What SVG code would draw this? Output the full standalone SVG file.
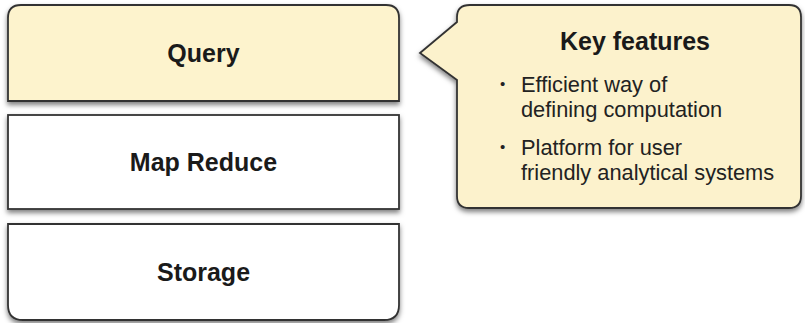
<svg xmlns="http://www.w3.org/2000/svg" width="805" height="323" viewBox="0 0 805 323">
<defs>
<filter id="sh" x="-10%" y="-10%" width="120%" height="130%">
<feDropShadow dx="0" dy="3" stdDeviation="2.5" flood-color="#000" flood-opacity="0.5"/>
</filter>
</defs>
<style>
.box{stroke:#333;stroke-width:1.8;filter:url(#sh)}
.lbl{font-family:"Liberation Sans",Arial,sans-serif;font-weight:bold;font-size:25px;fill:#1a1a1a;text-anchor:middle}
.bul{font-family:"Liberation Sans",Arial,sans-serif;font-size:21.8px;fill:#222}
.dot{font-family:"Liberation Sans",Arial,sans-serif;font-size:15px;fill:#222}
</style>
<rect width="805" height="323" fill="#fff"/>
<g id="query">
<path class="box" d="M8 101 V18 Q8 5 21 5 H386 Q399 5 399 18 V101 Z" fill="#fdf3cd"/>
<text class="lbl" x="203.5" y="62">Query</text>
</g>
<g id="mapreduce">
<rect class="box" x="8" y="115" width="391" height="94" fill="#fff"/>
<text class="lbl" x="203.5" y="171">Map Reduce</text>
</g>
<g id="storage">
<path class="box" d="M8 224 H399 V305 Q399 320 384 320 H23 Q8 320 8 305 Z" fill="#fff"/>
<text class="lbl" x="203.5" y="281">Storage</text>
</g>
<g id="keyfeatures">
<path class="box" d="M470 5 H789 Q801 5 801 17 V196 Q801 208 789 208 H469 Q457 208 457 196 V80 L420 53 L457 22 V17 Q457 5 470 5 Z" fill="#fcf2cc"/>
<text class="lbl" x="635" y="50" font-size="26">Key features</text>
<text class="dot" x="500" y="89">•</text>
<text class="bul" x="521" y="92">Efficient way of</text>
<text class="bul" x="521" y="117">defining computation</text>
<text class="dot" x="500" y="152">•</text>
<text class="bul" x="521" y="155">Platform for user</text>
<text class="bul" x="521" y="180">friendly analytical systems</text>
</g>
<g id="connectors"/>
</svg>
